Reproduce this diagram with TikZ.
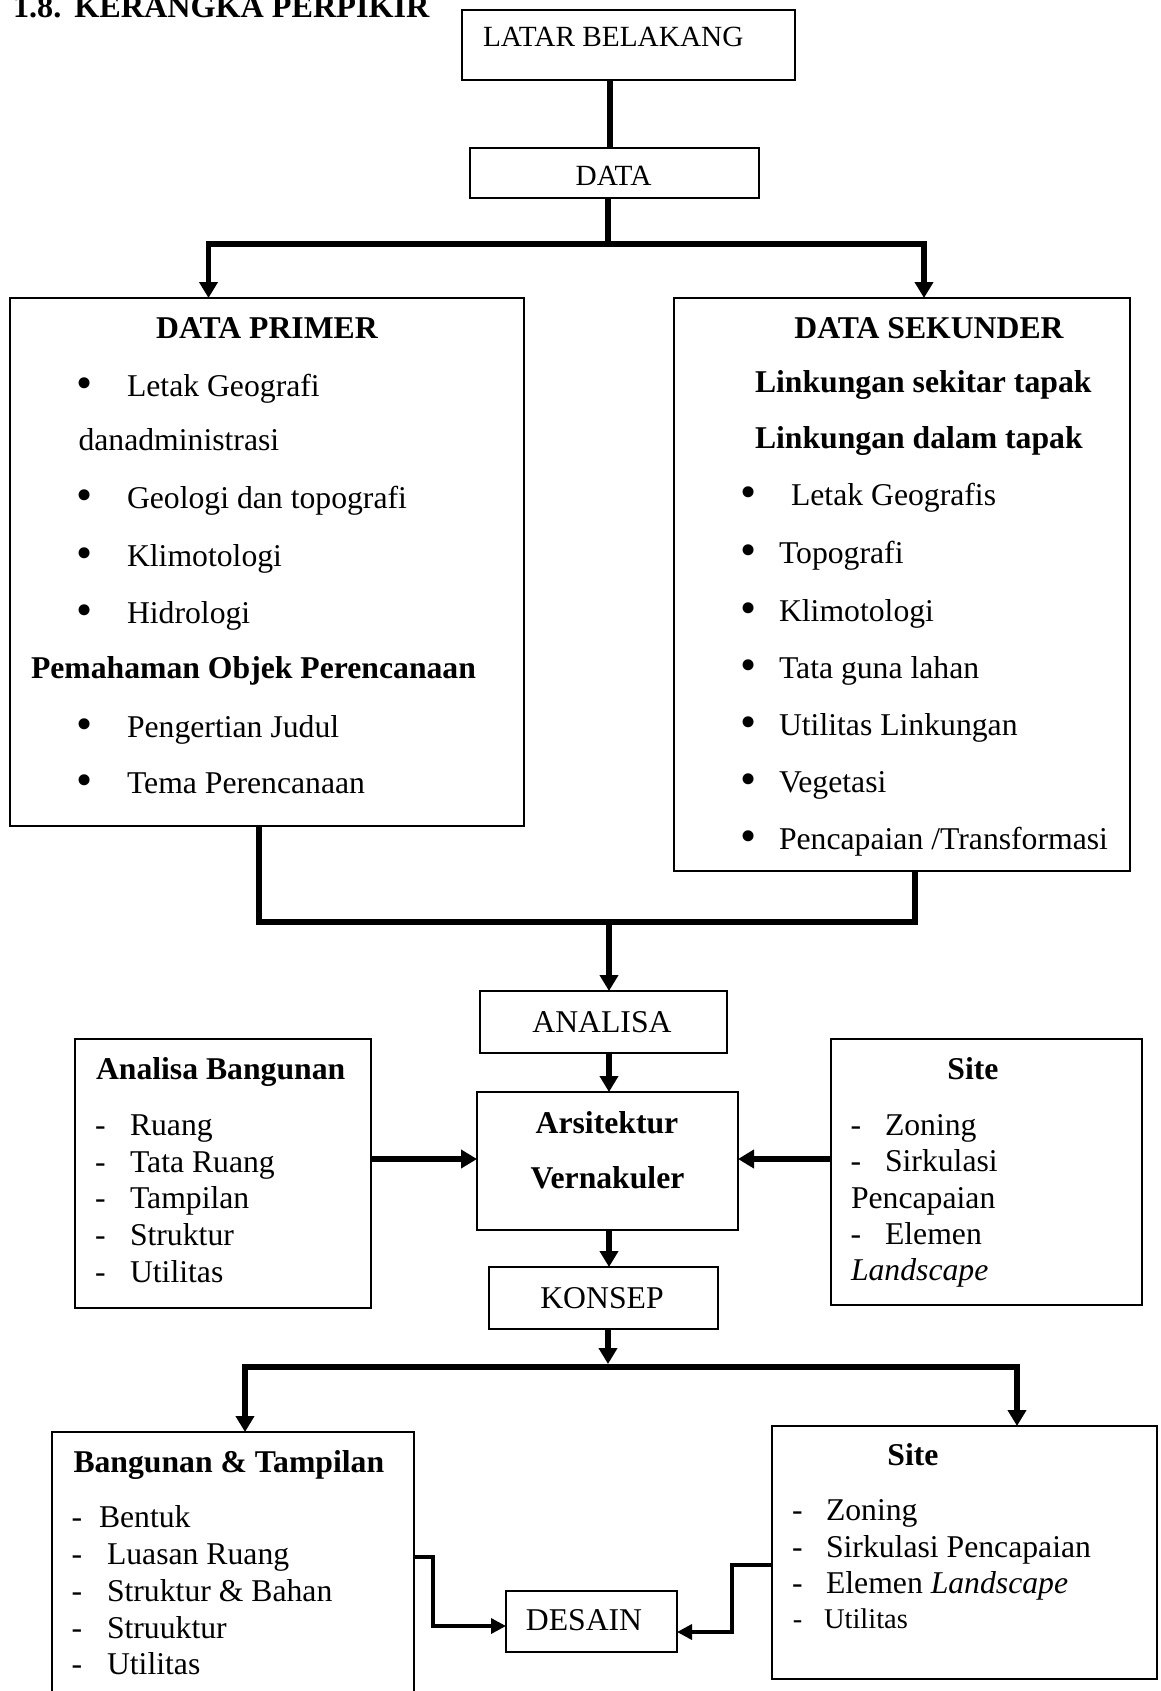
\documentclass[tikz,border=0pt]{standalone}
\usepackage{fontspec}
\setmainfont{Liberation Serif}
\usetikzlibrary{arrows.meta}
\newcommand{\fsN}{\fontsize{31.7}{38}\selectfont}
\newcommand{\fsS}{\fontsize{29.3}{35}\selectfont}
\begin{document}
\begin{tikzpicture}[x=1pt,y=-1pt,
  box/.style={draw, line width=2pt, inner sep=0pt, outer sep=0pt, rectangle},
  tx/.style={inner sep=0pt, outer sep=0pt, anchor=base west, font=\fsN},
  tb/.style={tx, font=\fsN\bfseries},
  tc/.style={tx, anchor=base},
  tcb/.style={tb, anchor=base},
  bul/.style={inner sep=0pt, outer sep=0pt, anchor=center, font=\fontsize{46}{46}\selectfont},
  conn/.style={line width=5.5pt},
  bigtip/.tip={Triangle[length=16pt,width=18pt]},
  smalltip/.tip={Triangle[length=15pt,width=15pt]},
  arr/.style={conn, -bigtip},
  thinarr/.style={line width=3.5pt, -smalltip}]

\fill[white] (0,0) rectangle (1160,1691);
\useasboundingbox (0,0) rectangle (1160,1691);

% title
\node[tb, font=\fontsize{32.2}{38}\selectfont\bfseries] (title) at (13,18) {1.8.\hspace{13pt}KERANGKA PERPIKIR};

% boxes
\node[box, minimum width=333pt, minimum height=70pt] (latar) at (628.5,45) {};
\node[box, minimum width=289pt, minimum height=50pt] (data) at (614.5,173) {};
\node[box, minimum width=514pt, minimum height=528pt] (primer) at (267,562) {};
\node[box, minimum width=456pt, minimum height=573pt] (sekunder) at (902,584.5) {};
\node[box, minimum width=247pt, minimum height=62pt] (analisa) at (603.5,1022) {};
\node[box, minimum width=261pt, minimum height=138pt] (arsi) at (607.5,1161) {};
\node[box, minimum width=296pt, minimum height=269pt] (bangA) at (223,1173.5) {};
\node[box, minimum width=311pt, minimum height=266pt] (site1) at (986.5,1172) {};
\node[box, minimum width=229pt, minimum height=62pt] (konsep) at (603.5,1298) {};
\node[box, minimum width=362pt, minimum height=288pt] (bt) at (233,1576) {};
\node[box, minimum width=171pt, minimum height=61pt] (desain) at (591.5,1621.5) {};
\node[box, minimum width=385pt, minimum height=253pt] (site2) at (964.5,1552.5) {};

% texts: top
\node[tx, font=\fsS] (tlatar) at (483,47) {LATAR BELAKANG};
\node[tc, font=\fsS] (tdata) at (613.5,185) {DATA};

% DATA PRIMER
\node[tcb] (tprimer) at (267,338) {DATA PRIMER};
\node[bul] (bp1) at (85,388) {•};
\node[tx] (p1) at (127,396) {Letak Geografi};
\node[tx] (p1b) at (78.5,450) {danadministrasi};
\node[bul] (bp2) at (85,500) {•};
\node[tx] (p2) at (127,508) {Geologi dan topografi};
\node[bul] (bp3) at (85,558) {•};
\node[tx] (p3) at (127,566) {Klimotologi};
\node[bul] (bp4) at (85,615) {•};
\node[tx] (p4) at (127,623) {Hidrologi};
\node[tb] (p5) at (31,678) {Pemahaman Objek Perencanaan};
\node[bul] (bp6) at (85,729) {•};
\node[tx] (p6) at (127,737) {Pengertian Judul};
\node[bul] (bp7) at (85,785) {•};
\node[tx] (p7) at (127,793) {Tema Perencanaan};

% DATA SEKUNDER
\node[tcb] (tsek) at (929,338) {DATA SEKUNDER};
\node[tb] (s1) at (755,392) {Linkungan sekitar tapak};
\node[tb] (s2) at (755,448) {Linkungan dalam tapak};
\node[bul] (bs3) at (749,497.5) {•};
\node[tx] (s3) at (791,505) {Letak Geografis};
\node[bul] (bs4) at (749,555.5) {•};
\node[tx] (s4) at (779,563) {Topografi};
\node[bul] (bs5) at (749,613.5) {•};
\node[tx] (s5) at (779,621) {Klimotologi};
\node[bul] (bs6) at (749,670.5) {•};
\node[tx] (s6) at (779,678) {Tata guna lahan};
\node[bul] (bs7) at (749,727.5) {•};
\node[tx] (s7) at (779,735) {Utilitas Linkungan};
\node[bul] (bs8) at (749,784.5) {•};
\node[tx] (s8) at (779,792) {Vegetasi};
\node[bul] (bs9) at (749,841.5) {•};
\node[tx] (s9) at (779,849) {Pencapaian /Transformasi};

% middle
\node[tc] (tanalisa) at (602,1032) {ANALISA};
\node[tcb] (tarsi1) at (607,1133) {Arsitektur};
\node[tcb] (tarsi2) at (607.5,1188) {Vernakuler};
\node[tc] (tkonsep) at (602,1308) {KONSEP};

% Analisa Bangunan
\node[tb] (tbangA) at (96,1079) {Analisa Bangunan};
\node[tc] (da1) at (100.5,1135) {-};
\node[tx] (a1) at (130,1135) {Ruang};
\node[tc] (da2) at (100.5,1172) {-};
\node[tx] (a2) at (130,1172) {Tata Ruang};
\node[tc] (da3) at (100.5,1208) {-};
\node[tx] (a3) at (130,1208) {Tampilan};
\node[tc] (da4) at (100.5,1245) {-};
\node[tx] (a4) at (130,1245) {Struktur};
\node[tc] (da5) at (100.5,1282) {-};
\node[tx] (a5) at (130,1282) {Utilitas};

% Site (middle)
\node[tcb] (tsite1) at (973,1079) {Site};
\node[tc] (dz1) at (856,1135) {-};
\node[tx] (z1) at (885,1135) {Zoning};
\node[tc] (dz2) at (856,1171) {-};
\node[tx] (z2) at (885,1171) {Sirkulasi};
\node[tx] (z3) at (851,1208) {Pencapaian};
\node[tc] (dz4) at (856,1244) {-};
\node[tx] (z4) at (885,1244) {Elemen};
\node[tx] (z5) at (851,1280) {\itshape Landscape};

% Bangunan & Tampilan
\node[tb] (tbt) at (73.5,1472) {Bangunan \& Tampilan};
\node[tc] (db1) at (77,1527) {-};
\node[tx] (b1) at (99,1527) {Bentuk};
\node[tc] (db2) at (77,1564) {-};
\node[tx] (b2) at (107,1564) {Luasan Ruang};
\node[tc] (db3) at (77,1601) {-};
\node[tx] (b3) at (107,1601) {Struktur \& Bahan};
\node[tc] (db4) at (77,1638) {-};
\node[tx] (b4) at (107,1638) {Struuktur};
\node[tc] (db5) at (77,1674) {-};
\node[tx] (b5) at (107,1674) {Utilitas};

% DESAIN
\node[tc] (tdesain) at (584,1630) {DESAIN};

% Site (bottom)
\node[tcb] (tsite2) at (913,1465) {Site};
\node[tc] (dy1) at (797.5,1520) {-};
\node[tx] (y1) at (826,1520) {Zoning};
\node[tc] (dy2) at (797.5,1557) {-};
\node[tx] (y2) at (826,1557) {Sirkulasi Pencapaian};
\node[tc] (dy3) at (797.5,1593) {-};
\node[tx] (y3) at (826,1593) {Elemen \textit{Landscape}};
\node[tc, font=\fontsize{28.5}{34}\selectfont] (dy4) at (797.5,1628) {-};
\node[tx, font=\fontsize{28.5}{34}\selectfont] (y4) at (824,1628) {Utilitas};

% connector coordinates
\coordinate (xA) at (610,0);
\coordinate (sM) at (608,244);
\coordinate (sL) at (208.5,244);
\coordinate (sR) at (924,244);
\coordinate (mL) at (259,922);
\coordinate (mR) at (915,922);
\coordinate (mM) at (609,922);
\coordinate (hY) at (0,1159);
\coordinate (kMt) at (608,1364);
\coordinate (kL) at (245,1367);
\coordinate (kR) at (1017,1367);
\coordinate (d1) at (433,1557);
\coordinate (d2) at (433,1626);
\coordinate (e1) at (732,1565);
\coordinate (e2) at (732,1632);

% connectors
\draw[conn] (latar.south -| xA) -- (data.north -| xA);
\draw[conn] (data.south -| sM) -- (sM);
\draw[conn, bigtip-bigtip] (primer.north -| sL) -- (sL) -- (sR) -- (sekunder.north -| sR);
\draw[conn] (primer.south -| mL) -- (mL) -- (mR) -- (sekunder.south -| mR);
\draw[arr] (mM) -- (analisa.north -| mM);
\draw[arr] (analisa.south -| mM) -- (arsi.north -| mM);
\draw[arr] (bangA.east |- hY) -- (arsi.west |- hY);
\draw[arr] (site1.west |- hY) -- (arsi.east |- hY);
\draw[arr] (arsi.south -| mM) -- (konsep.north -| mM);
\draw[arr] (konsep.south -| kMt) -- (kMt);
\draw[conn, bigtip-bigtip] (bt.north -| kL) -- (kL) -- (kR) -- (site2.north -| kR);
\draw[thinarr] (bt.east |- d1) -- (d1) -- (d2) -- (desain.west |- d2);
\draw[thinarr] (site2.west |- e1) -- (e1) -- (e2) -- (desain.east |- e2);
\end{tikzpicture}
\end{document}
